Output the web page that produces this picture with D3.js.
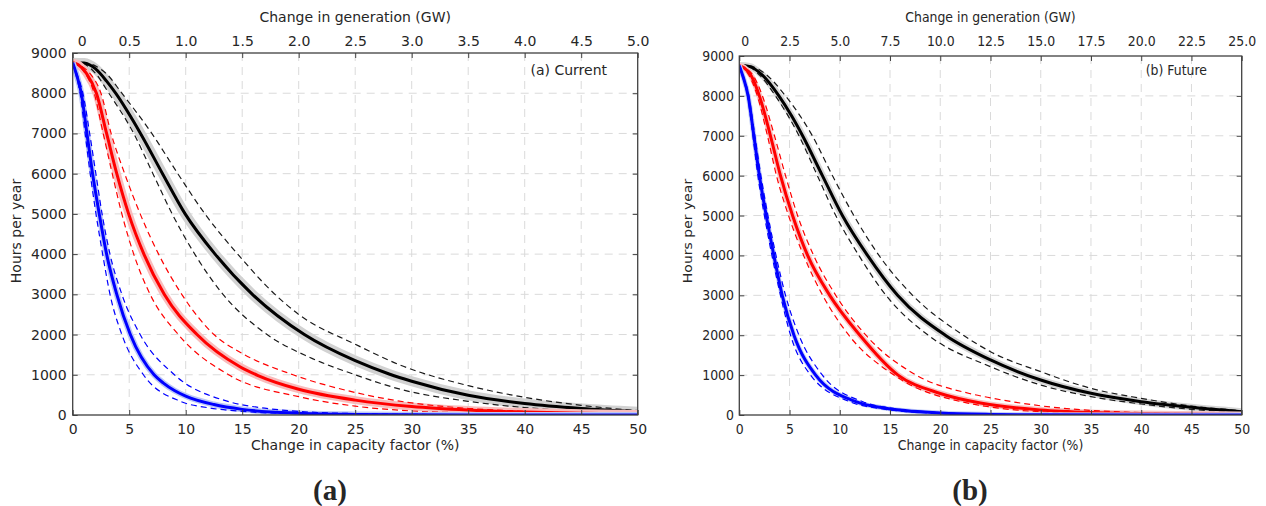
<!DOCTYPE html>
<html>
<head>
<meta charset="utf-8">
<script src="https://cdn.jsdelivr.net/npm/d3@7"></script>
<style>
  body { margin: 0; background: #fff; }
  svg text { font-family: "DejaVu Sans", sans-serif; fill: #262626; }
</style>
</head>
<body>
<svg id="chart" width="1266" height="506"></svg>
<script>
// tick values
var cfTicks = [0, 5, 10, 15, 20, 25, 30, 35, 40, 45, 50];
var hourTicks = [0, 1000, 2000, 3000, 4000, 5000, 6000, 7000, 8000, 9000];
var gwTicksA = [0, 0.5, 1.0, 1.5, 2.0, 2.5, 3.0, 3.5, 4.0, 4.5, 5.0];
var gwTicksB = [0, 2.5, 5.0, 7.5, 10.0, 12.5, 15.0, 17.5, 20.0, 22.5, 25.0];

// (a) Current : [change in capacity factor %, hours per year]
var aBlackMid = [[0,8760],[1,8750],[2,8610],[3,8300],[3.8,8000],[6.0,7000],[7.95,6000],[9.95,5000],[12.6,4000],[15.9,3000],[20.5,2000],[25,1350],[28,1020],[30,840],[35,490],[40,285],[45,160],[50,80]];
var aBlackHi  = [[0,8760],[1,8755],[2,8680],[3,8480],[4.35,8000],[7.0,7000],[9.3,6000],[11.7,5000],[14.6,4000],[17.9,3000],[20,2500],[25,1760],[29,1240],[35,730],[40,440],[45,240],[50,110]];
var aBlackLo  = [[0,8760],[1,8720],[2,8500],[3.2,8000],[5.4,7000],[7.1,6000],[8.8,5000],[10.8,4000],[13.3,3000],[17.2,2000],[21,1430],[25,1000],[29,640],[35,340],[40,185],[45,100],[50,55]];
var aRedMid   = [[0,8760],[0.5,8710],[1.2,8500],[2.1,8000],[3,7000],[3.9,6000],[4.95,5000],[6.3,4000],[8.1,3000],[11,2000],[14.8,1200],[16.4,980],[20,640],[25,370],[30,210],[35,122],[40,72],[45,42],[50,25]];
var aRedHi    = [[0,8760],[0.6,8700],[1.5,8500],[2.5,8000],[3.4,7000],[4.6,6000],[5.97,5000],[7.6,4000],[9.65,3000],[12.5,2000],[15,1530],[19.5,1000],[25,560],[30,300],[35,165],[40,90],[45,50],[50,30]];
var aRedLo    = [[0,8760],[0.4,8700],[1.1,8500],[1.9,8000],[2.7,7000],[3.5,6000],[4.35,5000],[5.4,4000],[6.85,3000],[9.35,2000],[13.8,1000],[20,455],[25,220],[30,100],[35,50],[40,25],[45,15],[50,10]];
var aBlueMid  = [[0,8760],[0.3,8500],[0.76,8000],[1.26,7000],[1.76,6000],[2.35,5000],[3,4000],[3.9,3000],[5.1,2000],[7.2,1000],[8,800],[9,610],[10,470],[12.5,260],[15,140],[20,45],[25,15],[30,5],[40,1],[50,0]];
var aBlueHi   = [[0,8760],[0.35,8500],[0.9,8000],[1.5,7000],[2.05,6000],[2.6,5000],[3.3,4000],[4.35,3000],[5.97,2000],[9.0,1000],[13.8,333],[17,170],[20,90],[25,35],[30,15],[40,5],[50,0]];
var aBlueLo   = [[0,8760],[0.25,8500],[0.65,8000],[1.1,7000],[1.55,6000],[2.06,5000],[2.65,4000],[3.3,3000],[4.35,2000],[6.26,1000],[9.6,333],[12,180],[15,90],[20,30],[25,10],[30,3],[50,0]];

// (b) Future
var bBlackMid = [[0,8760],[1,8740],[2.3,8520],[3.94,8000],[5.2,7500],[6.3,7000],[8.27,6000],[10.26,5000],[12.76,4000],[15.75,3000],[20.5,2000],[25,1380],[30,877],[35,543],[40,334],[45,192],[50,84]];
var bBlackHi  = [[0,8760],[1,8750],[2.6,8550],[4.6,8000],[7.27,7000],[9.27,6000],[11.4,5000],[13.9,4000],[17.25,3000],[22.3,2000],[25,1587],[30,1086],[35,668],[40,418],[45,225],[50,109]];
var bBlackLo  = [[0,8760],[1,8720],[2.1,8500],[3.6,8000],[5.94,7000],[7.77,6000],[9.6,5000],[11.9,4000],[14.6,3000],[18.8,2000],[25,1211],[30,752],[35,460],[40,276],[45,142],[50,67]];
var bRedMid   = [[0,8760],[0.5,8700],[1.2,8500],[2.0,8000],[3.1,7000],[4.1,6000],[5.3,5000],[6.8,4000],[9.0,3000],[12.0,2000],[15.8,1000],[20,540],[24,300],[30,125],[35,62],[40,36],[45,22],[50,15]];
var bRedHi    = [[0,8760],[0.6,8700],[1.4,8500],[2.3,8000],[3.5,7000],[4.6,6000],[5.8,5000],[7.4,4000],[9.6,3000],[12.6,2000],[17.6,1000],[22.9,540],[25,430],[30,230],[35,115],[40,60],[45,35],[50,20]];
var bRedLo    = [[0,8760],[0.4,8700],[1.0,8500],[1.8,8000],[2.8,7000],[3.7,6000],[4.9,5000],[6.4,4000],[8.3,3000],[10.9,2000],[15.4,1000],[22.9,290],[25,200],[30,80],[35,40],[40,25],[45,15],[50,10]];
var bBlueMid  = [[0,8760],[0.35,8500],[0.88,8000],[1.45,7000],[2.0,6000],[2.68,5000],[3.44,4000],[4.27,3000],[5.44,2000],[7.6,1000],[11.6,333],[14.6,167],[20,50],[25,15],[30,5],[50,0]];
var bBlueHi   = [[0,8760],[0.4,8500],[0.95,8000],[1.55,7000],[2.15,6000],[2.85,5000],[3.65,4000],[4.6,3000],[5.94,2000],[8.27,1000],[12.3,333],[15.3,167],[20,60],[25,20],[30,7],[50,0]];
var bBlueLo   = [[0,8760],[0.3,8500],[0.82,8000],[1.35,7000],[1.85,6000],[2.5,5000],[3.25,4000],[4.1,3000],[5.1,2000],[7.1,1000],[11,333],[14,160],[20,40],[25,12],[30,4],[50,0]];

var svg = d3.select("#chart");

// panel layout (panel b was squeezed sideways in the source figure, sx)
var panels = [
  { id: "a", left: 72.7, right: 637.7, top: 53, bottom: 415, gwMax: 5, gwTicks: gwTicksA, zeroShift: 9, sx: 1,
    note: "(a) Current", noteX: 607, ylabX: 21, big: "(a)", bigX: 330,
    series: [
      { mid: aBlackMid, hi: aBlackHi, lo: aBlackLo, color: "#000", dash: "#1a1a1a", band: "#d2d2d2", bw: 10 },
      { mid: aRedMid, hi: aRedHi, lo: aRedLo, color: "#ff0000", dash: "#ff0000", band: "#f8bcbc", bw: 8 },
      { mid: aBlueMid, hi: aBlueHi, lo: aBlueLo, color: "#0000ff", dash: "#0000ff", band: "#bcc8f6", bw: 6 }
    ] },
  { id: "b", left: 739.3, right: 1241.7, top: 56, bottom: 415, gwMax: 25, gwTicks: gwTicksB, zeroShift: 6, sx: 0.89,
    note: "(b) Future", noteX: 1207, ylabX: 692, big: "(b)", bigX: 970,
    series: [
      { mid: bBlackMid, hi: bBlackHi, lo: bBlackLo, color: "#000", dash: "#1a1a1a", band: "#d6d6d6", bw: 7 },
      { mid: bRedMid, hi: bRedHi, lo: bRedLo, color: "#ff0000", dash: "#ff0000", band: "#f8c4c4", bw: 6 },
      { mid: bBlueMid, hi: bBlueHi, lo: bBlueLo, color: "#0000ff", dash: "#0000ff", band: "#c4cff6", bw: 5 }
    ] }
];

function label(g, x, y, str, sx, anchor, rotate) {
  return g.append("text")
    .attr("transform", `translate(${x}, ${y}) scale(${sx}, 1)` + (rotate ? " rotate(-90)" : ""))
    .attr("text-anchor", anchor)
    .style("font-size", "14px")
    .text(str);
}

panels.forEach(function(p) {
  var x = d3.scaleLinear().domain([0, 50]).range([p.left, p.right]);
  var xTop = d3.scaleLinear().domain([0, p.gwMax]).range([p.left, p.right]);
  var y = d3.scaleLinear().domain([0, 9000]).range([p.bottom, p.top]);

  var g = svg.append("g");

  g.append("clipPath").attr("id", "clip-" + p.id)
    .append("rect")
    .attr("x", p.left).attr("y", p.top)
    .attr("width", p.right - p.left).attr("height", p.bottom - p.top);

  // dashed grid
  g.append("g").selectAll("line")
    .data(cfTicks.slice(1, -1))
    .enter().append("line")
    .attr("x1", d => x(d)).attr("x2", d => x(d))
    .attr("y1", p.top).attr("y2", p.bottom)
    .attr("stroke", "#dadada").attr("stroke-width", 1)
    .attr("stroke-dasharray", "8,6");

  g.append("g").selectAll("line")
    .data(hourTicks.slice(1, -1))
    .enter().append("line")
    .attr("y1", d => y(d)).attr("y2", d => y(d))
    .attr("x1", p.left).attr("x2", p.right)
    .attr("stroke", "#dadada").attr("stroke-width", 1)
    .attr("stroke-dasharray", "8,6");

  var line = d3.line()
    .x(d => x(d[0]))
    .y(d => y(d[1]))
    .curve(d3.curveMonotoneX);

  var curves = g.append("g").attr("clip-path", "url(#clip-" + p.id + ")");

  p.series.forEach(function(s) {
    // uncertainty band
    curves.append("path")
      .attr("d", line(s.mid))
      .attr("fill", "none")
      .attr("stroke", s.band)
      .attr("stroke-width", s.bw)
      .attr("stroke-linejoin", "round");

    // dashed bounds
    [s.hi, s.lo].forEach(function(arr) {
      curves.append("path")
        .attr("d", line(arr))
        .attr("fill", "none")
        .attr("stroke", s.dash)
        .attr("stroke-width", 1.2)
        .attr("stroke-dasharray", "6,4");
    });

    // central estimate
    curves.append("path")
      .attr("d", line(s.mid))
      .attr("fill", "none")
      .attr("stroke", s.color)
      .attr("stroke-width", 3)
      .attr("stroke-linejoin", "round");
  });

  // axes, ticks pointing inward
  var bottomAxis = d3.axisBottom(x).tickValues(cfTicks).tickSizeInner(-5).tickSizeOuter(0).tickPadding(9);
  var leftAxis = d3.axisLeft(y).tickValues(hourTicks).tickSizeInner(-5).tickSizeOuter(0).tickPadding(6)
    .tickFormat(d3.format("d"));
  var topAxis = d3.axisTop(xTop).tickValues(p.gwTicks).tickSizeInner(-5).tickSizeOuter(0).tickPadding(p.top - 45.5)
    .tickFormat(d => d === 0 ? "0" : d3.format(".1f")(d));
  var rightAxis = d3.axisRight(y).tickValues(hourTicks.slice(1, -1)).tickSizeInner(-5).tickSizeOuter(0).tickFormat("");

  var axes = [
    g.append("g").attr("transform", `translate(0, ${p.bottom})`).call(bottomAxis),
    g.append("g").attr("transform", `translate(${p.left}, 0)`).call(leftAxis),
    g.append("g").attr("transform", `translate(0, ${p.top})`).call(topAxis),
    g.append("g").attr("transform", `translate(${p.right}, 0)`).call(rightAxis)
  ];
  axes.forEach(function(a) {
    a.select(".domain").remove();
    a.selectAll(".tick line").attr("stroke", "#404040").attr("stroke-width", 1);
    a.selectAll("text")
      .style("font-size", "14px")
      .attr("fill", "#262626")
      .attr("transform", `scale(${p.sx}, 1)`);
  });
  axes[2].selectAll(".tick text").filter(d => d === 0).attr("dx", p.zeroShift);

  // axis box
  g.append("rect")
    .attr("x", p.left).attr("y", p.top)
    .attr("width", p.right - p.left).attr("height", p.bottom - p.top)
    .attr("fill", "none").attr("stroke", "#404040").attr("stroke-width", 1.3);

  // titles
  var cx = (p.left + p.right) / 2;
  label(g, cx, 22, "Change in generation (GW)", p.sx, "middle");
  label(g, cx, 450, "Change in capacity factor (%)", p.sx, "middle");
  label(g, p.ylabX, 231, "Hours per year", p.sx, "middle", true);
  label(g, p.noteX, 75, p.note, p.sx, "end");

  g.append("text").attr("x", p.bigX).attr("y", 500)
    .attr("text-anchor", "middle")
    .style("font-family", "'Liberation Serif', 'Times New Roman', serif")
    .style("font-weight", "bold").style("font-size", "29px")
    .attr("fill", "#000")
    .text(p.big);
});
</script>
</body>
</html>
